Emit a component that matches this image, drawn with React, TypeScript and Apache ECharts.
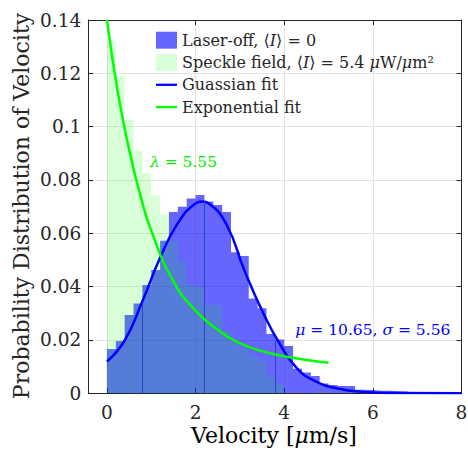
import React, { useEffect, useRef } from "react";
import * as echarts from "echarts";

// ---------- data ----------
const BIN_WIDTH = 0.2;
// Laser-off histogram heights, bins of width 0.2 starting at 0
const LASER_OFF = [
  0.0166, 0.0196, 0.0294, 0.0337, 0.0406, 0.0462, 0.0572, 0.068, 0.070, 0.0731,
  0.0744, 0.0719, 0.0706, 0.068, 0.0529, 0.0515, 0.0356, 0.0319, 0.0222, 0.0202,
  0.0177, 0.0092, 0.0078, 0.0065, 0.0037, 0.0031, 0.0027, 0.0027, 0.0013, 0.0012,
  0.001, 0.001, 0.0008, 0.0007, 0.0004, 0.0003,
];
// Speckle field histogram heights
const SPECKLE = [
  0.132, 0.119, 0.1025, 0.091, 0.0825, 0.0744, 0.067, 0.0572, 0.0494, 0.041,
  0.040, 0.0331, 0.0329, 0.0234, 0.020, 0.0165, 0.014, 0.0122, 0.0065, 0.0035,
  0, 0, 0, 0.0005, 0.0005,
];
// Gaussian fit curve
const GAUSS_X = [0, 0.4, 0.8, 1.2, 1.6, 2.0, 2.15, 2.3, 2.7, 3.1, 3.5, 3.9, 4.3, 4.7, 5.2, 5.8, 6.5, 8.0];
const GAUSS_Y = [0.0119, 0.0198, 0.0345, 0.0508, 0.0638, 0.0712, 0.0719, 0.0712, 0.0632, 0.0462, 0.031, 0.0185, 0.0092, 0.0046, 0.0018, 0.0005, 0.0001, 0];
// Exponential fit curve
const EXP_X = [0, 0.25, 0.5, 0.75, 1.0, 1.5, 2.0, 2.5, 3.0, 3.5, 4.0, 4.5, 5.0];
const EXP_Y = [0.140, 0.1125, 0.0915, 0.0745, 0.061, 0.042, 0.031, 0.0238, 0.0188, 0.0158, 0.0139, 0.0125, 0.0115];
// Bin boundaries where the rendered histogram shows a seam
const SEAM_BINS = [4, 11, 19];
const X_TICKS = [0, 2, 4, 6, 8];

const NAME_OFF = "Laser-off, ⟨I⟩ = 0";
const NAME_SPECKLE = "Speckle field, ⟨I⟩ = 5.4 μW/μm²";
const NAME_GAUSS = "Guassian fit";
const NAME_EXP = "Exponential fit";

const LAMBDA_POS = [0.97, 0.0867];
const MU_POS = [4.25, 0.0238];

// ---------- styles ----------
const FONT = "DejaVu Serif";
const INK = "#262626";
const BLUE_FILL = "rgba(0,0,255,0.6)";
const GREEN_FILL = "rgba(0,255,0,0.15)";
const LINE_ICON = "path://M0,0L24,0L24,2.6L0,2.6Z";

const rich = (size: number, color: string, lineHeight?: number) => ({
  n: { fontFamily: FONT, fontSize: size, color, lineHeight },
  i: { fontFamily: FONT, fontSize: size, color, fontStyle: "italic", lineHeight },
});

function stairs(values: number[]) {
  const pts: number[][] = values.map((v, i) => [i * BIN_WIDTH, v]);
  pts.push([values.length * BIN_WIDTH, values[values.length - 1]]);
  return pts;
}

const LEGEND_TEXT: Record<string, string> = {
  [NAME_OFF]: "{n|Laser-off, ⟨}{i|I}{n|⟩ = 0}",
  [NAME_SPECKLE]: "{n|Speckle field, ⟨}{i|I}{n|⟩ = 5.4 }{i|μ}{n|W/}{i|μ}{n|m²}",
  [NAME_GAUSS]: "{n|Guassian fit}",
  [NAME_EXP]: "{n|Exponential fit}",
};

export default function App() {
  const ref = useRef<HTMLDivElement>(null);
  useEffect(() => {
    if (!ref.current) return;
    const chart = echarts.init(ref.current, undefined, { renderer: "svg" });
    const axisBase = {
      type: "value" as const,
      axisLine: { show: true, onZero: false, lineStyle: { color: INK, width: 1 } },
    };
    chart.setOption({
      animation: false,
      grid: { left: 88.3, right: 6.5, top: 20, bottom: 62.7, containLabel: false, outerBoundsMode: "none" },
      xAxis: [
        {
          ...axisBase,
          min: -0.42,
          max: 8,
          position: "bottom",
          axisTick: { show: true, inside: true, length: 5, customValues: X_TICKS, lineStyle: { color: INK } },
          axisLabel: { show: true, customValues: X_TICKS, margin: 10, fontFamily: FONT, fontSize: 18.5, color: INK },
          splitLine: { show: true, lineStyle: { color: "#e3e3e3", width: 1 } },
        },
        {
          ...axisBase,
          min: -0.42,
          max: 8,
          position: "top",
          axisTick: { show: true, inside: true, length: 5, customValues: X_TICKS, lineStyle: { color: INK } },
          axisLabel: { show: false },
          splitLine: { show: false },
        },
      ],
      yAxis: [
        {
          ...axisBase,
          min: 0,
          max: 0.14,
          interval: 0.02,
          position: "left",
          axisTick: { show: true, inside: true, length: 5, lineStyle: { color: INK } },
          axisLabel: { show: true, margin: 7, fontFamily: FONT, fontSize: 18.5, color: INK },
          splitLine: { show: true, lineStyle: { color: "#e3e3e3", width: 1 } },
        },
        {
          ...axisBase,
          min: 0,
          max: 0.14,
          interval: 0.02,
          position: "right",
          axisTick: { show: true, inside: true, length: 5, lineStyle: { color: INK } },
          axisLabel: { show: false },
          splitLine: { show: false },
        },
      ],
      legend: {
        orient: "vertical",
        left: 151,
        top: 26.7,
        itemWidth: 21,
        itemHeight: 17,
        itemGap: 5.3,
        selectedMode: false,
        textStyle: { fontFamily: FONT, fontSize: 16, lineHeight: 17, color: INK, rich: rich(16, INK, 17) },
        formatter: (name: string) => LEGEND_TEXT[name] || name,
        data: [
          { name: NAME_OFF, icon: "rect", itemStyle: { color: BLUE_FILL, borderWidth: 0 } },
          { name: NAME_SPECKLE, icon: "rect", itemStyle: { color: GREEN_FILL, borderWidth: 0 } },
          { name: NAME_GAUSS, icon: LINE_ICON, itemStyle: { color: "#0000ff", borderWidth: 0 } },
          { name: NAME_EXP, icon: LINE_ICON, itemStyle: { color: "#00ff00", borderWidth: 0 } },
        ],
      },
      series: [
        {
          name: NAME_OFF,
          type: "line",
          step: "end",
          data: stairs(LASER_OFF),
          symbol: "none",
          lineStyle: { width: 0, color: BLUE_FILL },
          itemStyle: { color: BLUE_FILL },
          areaStyle: { color: BLUE_FILL, opacity: 1 },
          z: 2,
          markLine: {
            silent: true,
            symbol: ["none", "none"],
            label: { show: false },
            lineStyle: { color: "rgb(36,70,190)", width: 1, type: "solid" },
            data: SEAM_BINS.map((k) => [
              { coord: [k * BIN_WIDTH, 0] },
              { coord: [k * BIN_WIDTH, Math.min(LASER_OFF[k - 1], LASER_OFF[k])] },
            ]),
          },
        },
        {
          name: NAME_SPECKLE,
          type: "line",
          step: "end",
          data: stairs(SPECKLE),
          symbol: "none",
          lineStyle: { width: 0, color: GREEN_FILL },
          itemStyle: { color: GREEN_FILL },
          areaStyle: { color: GREEN_FILL, opacity: 1 },
          z: 3,
        },
        {
          name: NAME_GAUSS,
          type: "line",
          smooth: true,
          data: GAUSS_X.map((x, i) => [x, GAUSS_Y[i]]),
          symbol: "none",
          lineStyle: { width: 2.5, color: "#0000ff" },
          itemStyle: { color: "#0000ff" },
          z: 4,
          markPoint: {
            symbol: "circle",
            symbolSize: 0,
            silent: true,
            data: [{ coord: MU_POS }],
            label: {
              show: true,
              position: "right",
              distance: 0,
              formatter: "{i|μ}{n| = 10.65, }{i|σ}{n| = 5.56}",
              rich: rich(15.5, "#0000ff"),
            },
          },
        },
        {
          name: NAME_EXP,
          type: "line",
          smooth: true,
          data: EXP_X.map((x, i) => [x, EXP_Y[i]]),
          symbol: "none",
          lineStyle: { width: 2.5, color: "#00ff00" },
          itemStyle: { color: "#00ff00" },
          z: 5,
          markPoint: {
            symbol: "circle",
            symbolSize: 0,
            silent: true,
            data: [{ coord: LAMBDA_POS }],
            label: {
              show: true,
              position: "right",
              distance: 0,
              formatter: "{i|λ}{n| = 5.55}",
              rich: rich(15.5, "#00ee00"),
            },
          },
        },
      ],
      graphic: [
        {
          type: "text",
          x: 274,
          y: 435,
          style: {
            text: "{n|Velocity [}{i|μ}{n|m/s]}",
            rich: rich(22, INK),
            align: "center",
            verticalAlign: "middle",
          },
        },
        {
          type: "text",
          x: 21,
          y: 206,
          rotation: Math.PI / 2,
          style: {
            text: "Probability Distribution of Velocity",
            fontFamily: FONT,
            fontSize: 22,
            fill: INK,
            align: "center",
            verticalAlign: "middle",
          },
        },
      ],
    });
    return () => chart.dispose();
  }, []);
  return (
    <div
      ref={ref}
      style={{ position: "fixed", left: 0, top: 0, width: 468, height: 456, background: "#fff" }}
    />
  );
}
